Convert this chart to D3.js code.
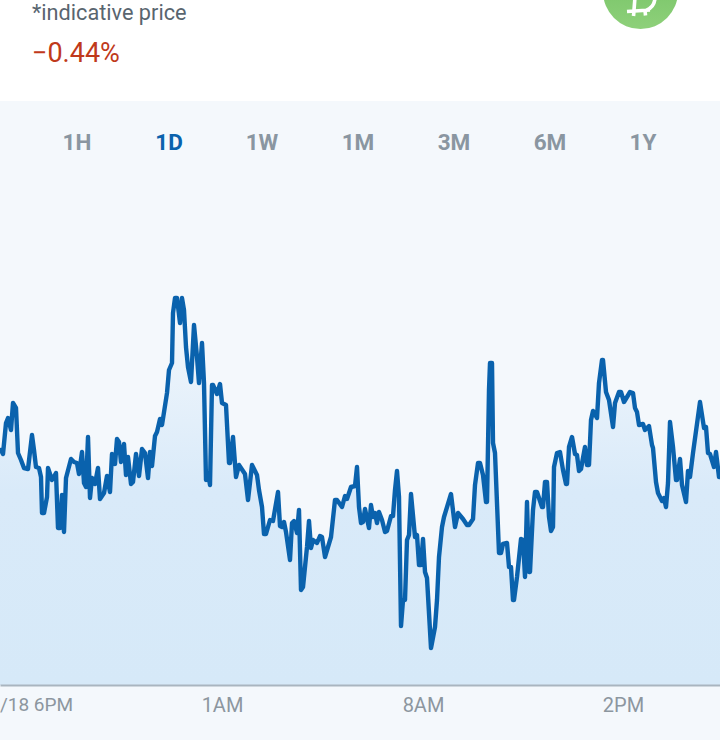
<!DOCTYPE html>
<html>
<head>
<meta charset="utf-8">
<script src="https://cdn.jsdelivr.net/npm/d3@7/dist/d3.min.js"></script>
<style>
html,body{margin:0;padding:0;background:#fff;overflow:hidden}
svg{display:block;font-family:Roboto,sans-serif}
</style>
</head>
<body>
<svg id="c" width="720" height="740"></svg>
<script>
const periods = ["1H","1D","1W","1M","3M","6M","1Y"];
const activePeriod = "1D";
const noteText = "*indicative price";
const changeText = "\u22120.44%";
const tickMinutes = [36,222,423,623];
const tickLabels = ["/18 6PM","1AM","8AM","2PM"];
const minutes = [0,3,6,8,11,13,16,18,21,24,28,32,34,36,39,41,42,44,47,48,52,56,58,60,62,64,66,71,74,77,79,82,84,86,88,90,92,95,98,100,104,107,110,112,115,117,119,121,124,126,128,131,133,136,139,142,145,148,150,152,155,157,160,162,167,169,172,173,175,177,180,182,184,186,188,191,194,197,199,202,204,206,208,210,212,213,217,220,222,226,229,230,233,236,239,
245,248,252,257,259,262,264,266,270,273,278,280,282,284,286,290,292,294,297,299,301,303,307,309,311,313,317,320,322,325,331,335,337,342,345,347,351,355,357,359,361,363,365,369,371,373,375,377,379,382,385,387,391,393,395,397,399,401,403,405,407,409,411,415,417,419,421,423,425,427,431,435,437,439,442,444,451,455,458,463,467,469,473,475,478,
480,483,486,487,489,490,492,493,495,499,501,503,507,509,511,513,514,517,521,523,525,527,529,530,533,535,537,542,543,545,547,549,551,553,554,557,560,563,566,567,569,572,575,577,579,581,585,587,589,591,593,597,599,602,603,606,609,613,615,619,621,624,630,633,635,637,639,643,645,649,652,653,656,658,662,664,666,668,670,673,676,677,680,682,686,688,690,693,700,704,706,708,710,714,716,719,720];
const prices = [237,231,262,267,255,282,277,232,225,217,216,250,235,218,217,208,172,172,188,217,205,212,157,157,190,153,207,226,223,222,211,233,202,198,248,187,207,201,217,186,192,209,193,231,221,246,243,223,241,210,228,201,203,231,209,236,232,207,233,219,249,253,266,260,292,315,322,372,387,387,362,387,375,338,318,303,360,328,302,342,302,205,212,200,300,300,291,301,282,280,222,222,248,208,220,
211,185,220,210,195,178,151,151,165,164,193,159,158,163,153,125,162,164,152,175,95,98,138,164,137,145,142,149,148,128,148,185,185,178,189,186,198,199,218,178,162,163,176,157,180,168,172,162,173,165,153,154,169,169,195,214,188,59,85,85,145,150,191,148,150,120,120,146,113,107,37,58,85,128,158,168,191,158,172,166,160,160,166,200,222,
222,210,183,183,295,322,322,242,232,132,132,141,142,118,118,85,85,108,146,145,108,183,113,113,175,193,193,178,178,203,203,168,154,158,218,232,233,215,201,201,238,248,231,230,214,216,238,220,220,265,274,267,302,325,325,293,285,258,282,293,293,283,293,292,277,273,260,261,255,259,240,237,203,192,184,187,178,202,263,238,205,205,226,200,183,214,208,232,283,257,258,232,231,218,233,208,208];

const svg = d3.select("#c");
const W = 720, H = 740, panelTop = 101, baseY = 685;
const data = minutes.map((m,i)=>({m, p:prices[i]}));
const x = d3.scaleLinear().domain([0,720]).range([0,W]);
const y = d3.scaleLinear().domain([0,387]).range([baseY,298]);

const defs = svg.append("defs");
const g1 = defs.append("linearGradient").attr("id","fillGrad").attr("x1",0).attr("x2",0).attr("y1",0).attr("y2",1);
g1.append("stop").attr("offset","0%").attr("stop-color","#f4f8fc");
g1.append("stop").attr("offset","50%").attr("stop-color","#d9eaf9");
g1.append("stop").attr("offset","100%").attr("stop-color","#d6e9f8");
const g2 = defs.append("linearGradient").attr("id","coin").attr("x1",0).attr("x2",0).attr("y1",0).attr("y2",1);
g2.append("stop").attr("offset","0%").attr("stop-color","#6dbf5f");
g2.append("stop").attr("offset","100%").attr("stop-color","#8ed07a");

svg.append("rect").attr("width",W).attr("height",panelTop).attr("fill","#ffffff");
svg.append("rect").attr("y",panelTop).attr("width",W).attr("height",H-panelTop).attr("fill","#f4f8fc");

svg.append("text").text(noteText).attr("x",32).attr("y",19.5).attr("font-size",21.7).attr("fill","#59656f");
svg.append("text").text(changeText).attr("x",32).attr("y",62).attr("font-size",27).attr("fill","#c0391b");

svg.append("circle").attr("cx",640.5).attr("cy",-8.5).attr("r",37.5).attr("fill","url(#coin)");
svg.append("path")
  .attr("d","M635,-3 L634,10 M627,11.5 L650,10 M634,11 L633.5,16 M645,10 L645.5,15.5 M655,-3 Q655,7 646,10.5")
  .attr("fill","none").attr("stroke","#fff").attr("stroke-width",3.6);

const tabCentres = d3.scaleOrdinal().domain(periods).range([77,169,262,358,454,550,643]);
svg.append("g").selectAll("text").data(periods).join("text")
  .text(d=>d).attr("x",d=>tabCentres(d)).attr("y",150).attr("text-anchor","middle")
  .attr("font-size",22.5).attr("font-weight",700)
  .attr("fill",d=>d===activePeriod?"#0a62ad":"#8a96a1");

const area = d3.area().x(d=>x(d.m)).y0(baseY).y1(d=>y(d.p));
const line = d3.line().x(d=>x(d.m)).y(d=>y(d.p)).curve(d3.curveLinear);
svg.append("path").datum(data).attr("d",area).attr("fill","url(#fillGrad)");
svg.append("path").datum(data).attr("d",line).attr("fill","none").attr("stroke","#0a62ad").attr("stroke-width",4.4).attr("stroke-linejoin","round");

const axis = d3.axisBottom(x).tickValues(tickMinutes).tickFormat((d,i)=>tickLabels[i]).tickSize(0).tickPadding(13);
const ax = svg.append("g").attr("transform",`translate(0,${baseY})`).call(axis);
ax.select(".domain").attr("stroke","#a9b5bf").attr("stroke-width",2);
ax.selectAll("text").attr("font-size",(d,i)=>i===0?19:20).attr("font-family","Roboto,sans-serif").attr("fill","#8c969f");
</script>
</body>
</html>
